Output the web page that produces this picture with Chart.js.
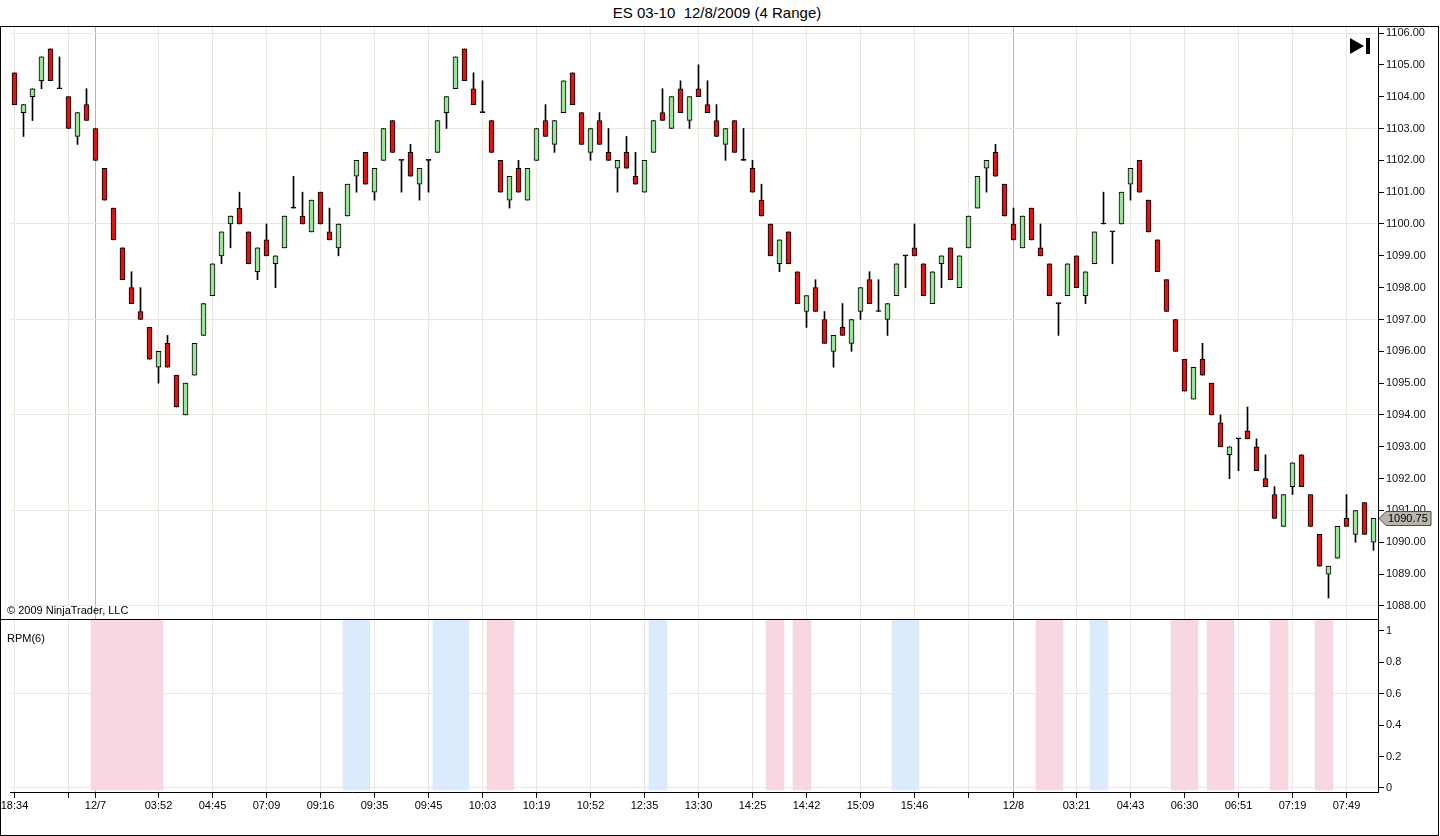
<!DOCTYPE html>
<html>
<head>
<meta charset="utf-8">
<title>ES 03-10 12/8/2009 (4 Range)</title>
<script src="https://cdn.jsdelivr.net/npm/chart.js@4.4.1/dist/chart.umd.min.js"></script>
<style>
  body { margin: 0; background: #fff; font-family: 'Liberation Sans', Arial, sans-serif; }
  #wrap { position: relative; width: 1440px; height: 836px; overflow: hidden; }
  #title { position: absolute; left: 0; top: 4px; width: 1434px; text-align: center; font-size: 15px; white-space: pre; color: #000; }
  canvas { position: absolute; left: 0; }
  #priceChart { top: 26px; }
  #rpmChart { top: 619px; }
  #frame { position: absolute; left: 0; top: 26px; width: 1439px; height: 810px; box-sizing: border-box; border: 1px solid #000; pointer-events: none; }
  #sep { position: absolute; left: 0; top: 619px; width: 1378px; height: 1px; background: #000; }
  .note { position: absolute; left: 7px; font-size: 11px; line-height: 14px; color: #000; }
  #tri { position: absolute; left: 1350px; top: 38px; width: 0; height: 0; border-left: 14px solid #000; border-top: 8px solid transparent; border-bottom: 8px solid transparent; }
  #bar { position: absolute; left: 1366px; top: 38px; width: 4px; height: 16px; background: #000; }
</style>
</head>
<body>
<div id="wrap">
  <div id="title">ES 03-10  12/8/2009 (4 Range)</div>
  <canvas id="priceChart" width="1438" height="593"></canvas>
  <canvas id="rpmChart" width="1438" height="217"></canvas>
  <div id="frame"></div>
  <div id="sep"></div>
  <div class="note" style="top:603px">© 2009 NinjaTrader, LLC</div>
  <div class="note" style="top:631px">RPM(6)</div>
  <div id="tri"></div>
  <div id="bar"></div>
</div>
<script>
// 4 Range 봉 (시가/고가/저가/종가)
var opens = [
  1104.75, 1103.5, 1104, 1104.5, 1105.5, 1104.25, 1104, 1102.75, 1103.75, 1103,
  1101.75, 1100.5, 1099.25, 1098, 1097.25, 1096.75, 1095.5, 1096.25, 1095.25, 1094,
  1095.25, 1096.5, 1097.75, 1099, 1100, 1100.5, 1099.75, 1098.5, 1099.5, 1098.75,
  1099.25, 1100.5, 1100.25, 1099.75, 1101, 1099.75, 1099.25, 1100.25, 1101.5, 1102.25,
  1101, 1102, 1103.25, 1102, 1102.25, 1101.25, 1102, 1102.25, 1103.5, 1104.25,
  1105.5, 1104.25, 1103.5, 1103.25, 1102, 1100.75, 1101.75, 1100.75, 1102, 1103.25,
  1102.5, 1103.5, 1104.75, 1103.5, 1102.25, 1103.25, 1102.25, 1101.75, 1102.25, 1101.5,
  1101, 1102.25, 1103.5, 1103, 1104.25, 1103.25, 1104.25, 1103.75, 1103.25, 1102.5,
  1103.25, 1102, 1101.75, 1100.75, 1100, 1098.75, 1099.75, 1098.5, 1097.25, 1098,
  1097, 1096, 1096.75, 1096.25, 1097.25, 1098.25, 1097.25, 1097, 1097.75, 1099,
  1099.25, 1098.75, 1097.5, 1098.75, 1099.25, 1098, 1099.25, 1100.5, 1101.75, 1102.25,
  1101.25, 1100, 1099.25, 1100.5, 1099.25, 1098.75, 1097.5, 1097.75, 1099, 1097.75,
  1098.75, 1100, 1099.75, 1100, 1101.25, 1102, 1100.75, 1099.5, 1098.25, 1097,
  1095.75, 1094.5, 1095.75, 1095, 1093.75, 1092.75, 1093.25, 1093.5, 1093, 1092,
  1091.5, 1090.5, 1091.75, 1092.75, 1091.5, 1090.25, 1089, 1089.5, 1090.75, 1090.25,
  1091.25, 1090
];
var highs = [
  1104.75, 1103.75, 1104.25, 1105.25, 1105.5, 1105.25, 1104, 1103.5, 1104.25, 1103,
  1101.75, 1100.5, 1099.25, 1098.5, 1098, 1096.75, 1096, 1096.5, 1095.25, 1095,
  1096.25, 1097.5, 1098.75, 1099.75, 1100.25, 1101, 1099.75, 1099.25, 1100, 1099,
  1100.25, 1101.5, 1101, 1100.75, 1101, 1100.5, 1100, 1101.25, 1102, 1102.25,
  1101.75, 1103, 1103.25, 1102, 1102.5, 1101.75, 1102, 1103.25, 1104, 1105.25,
  1105.5, 1104.75, 1104.5, 1103.25, 1102, 1101.5, 1102, 1101.75, 1103, 1103.75,
  1103.25, 1104.5, 1104.75, 1103.5, 1103, 1103.5, 1103, 1102, 1102.75, 1102.25,
  1102, 1103.25, 1104.25, 1104, 1104.5, 1104, 1105, 1104.5, 1103.75, 1103,
  1103.25, 1103, 1102, 1101.25, 1100, 1099.5, 1099.75, 1098.5, 1097.75, 1098.25,
  1097.25, 1096.5, 1097.5, 1097, 1098, 1098.5, 1098.25, 1097.5, 1098.75, 1099,
  1100, 1098.75, 1098.5, 1099, 1099.25, 1099, 1100.25, 1101.5, 1102, 1102.5,
  1101.25, 1100.5, 1100.25, 1100.5, 1100, 1098.75, 1097.5, 1098.75, 1099, 1098.5,
  1099.75, 1101, 1099.75, 1101, 1101.75, 1102, 1100.75, 1099.5, 1098.25, 1097,
  1095.75, 1095.5, 1096.25, 1095, 1094, 1093, 1093.25, 1094.25, 1093.25, 1092.75,
  1091.75, 1091.5, 1092.5, 1092.75, 1091.5, 1090.25, 1089.25, 1090.5, 1091.5, 1091,
  1091.25, 1090.75
];
var lows = [
  1103.75, 1102.75, 1103.25, 1104.25, 1104.5, 1104.25, 1103, 1102.5, 1103.25, 1102,
  1100.75, 1099.5, 1098.25, 1097.5, 1097, 1095.75, 1095, 1095.5, 1094.25, 1094,
  1095.25, 1096.5, 1097.75, 1098.75, 1099.25, 1100, 1098.75, 1098.25, 1099, 1098,
  1099.25, 1100.5, 1100, 1099.75, 1100, 1099.5, 1099, 1100.25, 1101, 1101.25,
  1100.75, 1102, 1102.25, 1101, 1101.5, 1100.75, 1101, 1102.25, 1103, 1104.25,
  1104.5, 1103.75, 1103.5, 1102.25, 1101, 1100.5, 1101, 1100.75, 1102, 1102.75,
  1102.25, 1103.5, 1103.75, 1102.5, 1102, 1102.5, 1102, 1101, 1101.75, 1101.25,
  1101, 1102.25, 1103.25, 1103, 1103.5, 1103, 1104, 1103.5, 1102.75, 1102,
  1102.25, 1102, 1101, 1100.25, 1099, 1098.5, 1098.75, 1097.5, 1096.75, 1097.25,
  1096.25, 1095.5, 1096.5, 1096, 1097, 1097.5, 1097.25, 1096.5, 1097.75, 1098,
  1099, 1097.75, 1097.5, 1098, 1098.25, 1098, 1099.25, 1100.5, 1101, 1101.5,
  1100.25, 1099.5, 1099.25, 1099.5, 1099, 1097.75, 1096.5, 1097.75, 1098, 1097.5,
  1098.75, 1100, 1098.75, 1100, 1100.75, 1101, 1099.75, 1098.5, 1097.25, 1096,
  1094.75, 1094.5, 1095.25, 1094, 1093, 1092, 1092.25, 1093.25, 1092.25, 1091.75,
  1090.75, 1090.5, 1091.5, 1091.75, 1090.5, 1089.25, 1088.25, 1089.5, 1090.5, 1090,
  1090.25, 1089.75
];
var closes = [
  1103.75, 1103.75, 1104.25, 1105.25, 1104.5, 1104.25, 1103, 1103.5, 1103.25, 1102,
  1100.75, 1099.5, 1098.25, 1097.5, 1097, 1095.75, 1096, 1095.5, 1094.25, 1095,
  1096.25, 1097.5, 1098.75, 1099.75, 1100.25, 1100, 1098.75, 1099.25, 1099, 1099,
  1100.25, 1100.5, 1100, 1100.75, 1100, 1099.5, 1100, 1101.25, 1102, 1101.25,
  1101.75, 1103, 1102.25, 1102, 1101.5, 1101.75, 1102, 1103.25, 1104, 1105.25,
  1104.5, 1103.75, 1103.5, 1102.25, 1101, 1101.5, 1101, 1101.75, 1103, 1102.75,
  1103.25, 1104.5, 1103.75, 1102.5, 1103, 1102.5, 1102, 1102, 1101.75, 1101.25,
  1102, 1103.25, 1103.25, 1104, 1103.5, 1104, 1104, 1103.5, 1102.75, 1103,
  1102.25, 1102, 1101, 1100.25, 1099, 1099.5, 1098.75, 1097.5, 1097.75, 1097.25,
  1096.25, 1096.5, 1096.5, 1097, 1098, 1097.5, 1097.25, 1097.5, 1098.75, 1099,
  1099, 1097.75, 1098.5, 1099, 1098.25, 1099, 1100.25, 1101.5, 1102, 1101.5,
  1100.25, 1099.5, 1100.25, 1099.5, 1099, 1097.75, 1097.5, 1098.75, 1098, 1098.5,
  1099.75, 1100, 1099.75, 1101, 1101.75, 1101, 1099.75, 1098.5, 1097.25, 1096,
  1094.75, 1095.5, 1095.25, 1094, 1093, 1093, 1093.25, 1093.25, 1092.25, 1091.75,
  1090.75, 1091.5, 1092.5, 1091.75, 1090.5, 1089.25, 1089.25, 1090.5, 1090.5, 1091,
  1090.25, 1090.75
];

// x축 라벨 (봉 번호 -> 시간)
var tickIndex = [0, 6, 9, 16, 22, 28, 34, 40, 46, 52, 58, 64, 70, 76, 82, 88, 94, 100, 106, 111, 118, 124, 130, 136, 142, 148];
var tickText = ['18:34', '', '12/7', '03:52', '04:45', '07:09', '09:16', '09:35', '09:45', '10:03', '10:19', '10:52', '12:35', '13:30', '14:25', '14:42', '15:09', '15:46', '', '12/8', '03:21', '04:43', '06:30', '06:51', '07:19', '07:49'];
var sessionBreaks = [9, 111];

// RPM(6) 구간 (봉 번호 시작, 끝)
var rpmRedRanges = [[9, 16], [53, 55], [84, 85], [87, 88], [114, 116], [129, 131], [133, 135], [140, 141], [145, 146]];
var rpmBlueRanges = [[37, 39], [47, 50], [71, 72], [98, 100], [120, 121]];

var n = closes.length;
var labels = [];
for (var i = 0; i < n; i++) labels.push('');
var isTick = {};
tickIndex.forEach(function(ix, k) { labels[ix] = tickText[k]; isTick[ix] = true; });

var GRID = '#ebe8de';
var SESSION = '#b4b4b4';
var RED = '#dc1414';
var GREEN = '#98e498';

Chart.defaults.font.family = "'Liberation Sans', Arial, sans-serif";
Chart.defaults.font.size = 11;
Chart.defaults.color = '#111';

function xGridColor(ctx) {
    var i = ctx.index;
    if (sessionBreaks.indexOf(i) >= 0) return SESSION;
    return isTick[i] ? GRID : 'rgba(0,0,0,0)';
}
function fixY(scale) {
    scale.width = 60;
    scale.paddingTop = 0;
    scale.paddingBottom = 0;
}

// 마지막 가격 표시
var lastPriceTag = {
    id: 'lastPriceTag',
    afterDraw: function(chart) {
        var c = chart.ctx;
        var y = Math.round(chart.scales.y.getPixelForValue(closes[n - 1])) + 0.5;
        var x = chart.chartArea.right + 1;
        c.save();
        c.beginPath();
        c.moveTo(x, y);
        c.lineTo(x + 7, y - 7);
        c.lineTo(x + 52, y - 7);
        c.lineTo(x + 52, y + 7);
        c.lineTo(x + 7, y + 7);
        c.closePath();
        c.fillStyle = '#b8b4a8';
        c.fill();
        c.strokeStyle = '#4a4a4a';
        c.lineWidth = 1;
        c.stroke();
        c.fillStyle = '#000';
        c.font = "11px 'Liberation Sans', Arial, sans-serif";
        c.textBaseline = 'middle';
        c.fillText(closes[n - 1].toFixed(2), x + 9, y + 0.5);
        c.restore();
    }
};

var bodyColors = closes.map(function(c, i) {
    if (c > opens[i]) return GREEN;
    if (c < opens[i]) return RED;
    return '#000';
});

var priceChart = new Chart(document.getElementById('priceChart').getContext('2d'), {
    type: 'bar',
    data: {
        labels: labels,
        datasets: [{
            label: 'body',
            data: opens.map(function(o, i) { return [o, closes[i]]; }),
            backgroundColor: bodyColors,
            borderColor: '#000',
            borderWidth: 1,
            borderSkipped: false,
            barThickness: 5,
            minBarLength: 1,
            grouped: false
        }, {
            label: 'wick',
            data: lows.map(function(l, i) { return [l, highs[i]]; }),
            backgroundColor: '#000',
            borderWidth: 0,
            barThickness: 1,
            grouped: false
        }]
    },
    options: {
        responsive: false,
        animation: false,
        devicePixelRatio: 1,
        layout: { padding: { left: 10, right: 0, top: 0, bottom: 0 } },
        plugins: { legend: { display: false }, tooltip: { enabled: false } },
        scales: {
            x: {
                offset: true,
                grid: { offset: false, color: xGridColor, drawTicks: false },
                border: { display: false },
                ticks: { display: false, autoSkip: false },
                afterFit: function(s) { s.height = 0; s.paddingLeft = 0; s.paddingRight = 0; }
            },
            y: {
                position: 'right',
                min: 1087.59,
                max: 1106.22,
                ticks: {
                    stepSize: 1,
                    includeBounds: false,
                    padding: 2,
                    color: '#111',
                    callback: function(v) { return v.toFixed(2); }
                },
                grid: {
                    color: function(ctx) {
                        var v = ctx.tick ? ctx.tick.value : 0;
                        return ((Math.round(v) - 1088) % 3 === 0) ? GRID : 'rgba(0,0,0,0)';
                    },
                    tickColor: '#000',
                    tickLength: 6
                },
                border: { display: true, color: '#000' },
                afterFit: fixY
            }
        }
    },
    plugins: [lastPriceTag]
});

// RPM 배경 구간
var BAND_LOW = -0.013, BAND_HIGH = 1.1;
function bandData(ranges) {
    var d = [];
    for (var i = 0; i < n; i++) d.push(null);
    ranges.forEach(function(r) {
        for (var j = r[0]; j <= r[1]; j++) d[j] = [BAND_LOW, BAND_HIGH];
    });
    return d;
}

var rpmChart = new Chart(document.getElementById('rpmChart').getContext('2d'), {
    type: 'bar',
    data: {
        labels: labels,
        datasets: [{
            label: 'RPM down',
            data: bandData(rpmRedRanges),
            backgroundColor: '#f8d8e0',
            borderWidth: 0,
            barPercentage: 1,
            categoryPercentage: 1,
            grouped: false
        }, {
            label: 'RPM up',
            data: bandData(rpmBlueRanges),
            backgroundColor: '#dbebfc',
            borderWidth: 0,
            barPercentage: 1,
            categoryPercentage: 1,
            grouped: false
        }]
    },
    options: {
        responsive: false,
        animation: false,
        devicePixelRatio: 1,
        layout: { padding: { left: 10, right: 0, top: 0, bottom: 0 } },
        plugins: { legend: { display: false }, tooltip: { enabled: false } },
        scales: {
            x: {
                offset: true,
                z: 1,
                grid: { offset: false, color: xGridColor, tickColor: function(ctx) {
                    return isTick[ctx.index] ? '#000' : 'rgba(0,0,0,0)';
                }, tickLength: 6 },
                border: { display: true, color: '#000' },
                ticks: { autoSkip: false, maxRotation: 0, padding: 1, color: '#000' },
                afterFit: function(s) { s.height = 44; s.paddingLeft = 0; s.paddingRight = 0; }
            },
            y: {
                position: 'right',
                min: -0.0255,
                max: 1.0764,
                ticks: {
                    stepSize: 0.2,
                    includeBounds: false,
                    padding: 2,
                    color: '#111',
                    callback: function(v) { return String(Math.round(v * 10) / 10); }
                },
                grid: {
                    color: function(ctx) {
                        var v = ctx.tick ? ctx.tick.value : 1;
                        return (Math.abs(v) < 1e-6 || Math.abs(v - 0.6) < 1e-6) ? GRID : 'rgba(0,0,0,0)';
                    },
                    tickColor: '#000',
                    tickLength: 6
                },
                border: { display: true, color: '#000' },
                afterFit: fixY
            }
        }
    }
});
</script>
</body>
</html>
